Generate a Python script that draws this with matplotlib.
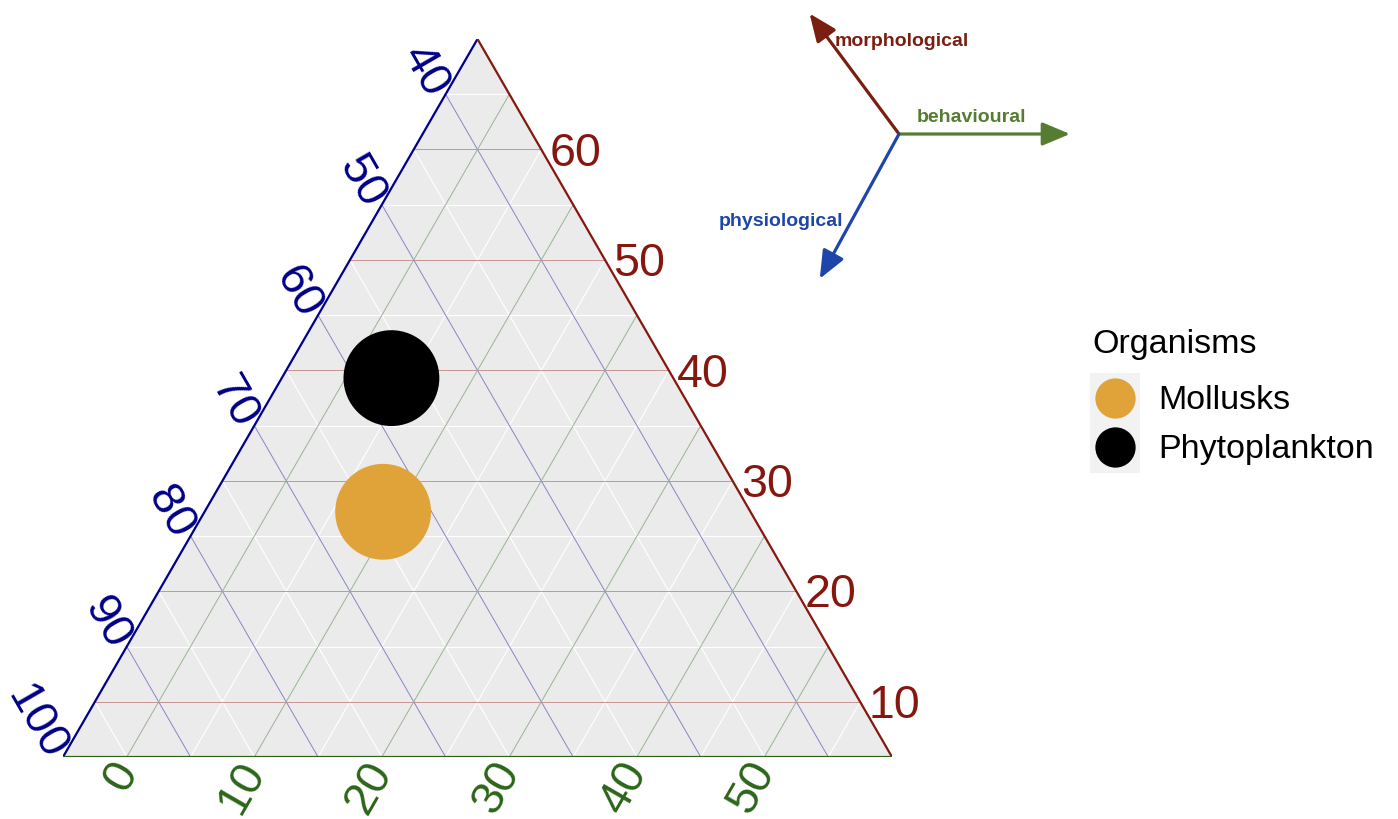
import numpy as np
import matplotlib.pyplot as plt
from matplotlib.patches import Polygon, Rectangle

plt.rcParams['font.family'] = ['Liberation Sans', 'DejaVu Sans']

# data (percent)
organisms = ['Mollusks', 'Phytoplankton']
morphological = [27.2, 39.3]
behavioural = [9.0, 3.6]
physiological = [63.8, 57.1]
point_colors = ['#DFA33A', '#000000']

# ternary limits and ticks
morph_lim = (5, 70)
behav_lim = (-5, 60)
physio_lim = (35, 100)
morph_ticks = [10, 20, 30, 40, 50, 60]
physio_ticks = [40, 50, 60, 70, 80, 90, 100]
behav_ticks = [0, 10, 20, 30, 40, 50]

SPAN = morph_lim[1] - morph_lim[0]
H = np.sqrt(3) / 2

RED = '#86170F'
BLUE = '#000088'
GREEN = '#2C6519'


def to_xy(morph, behav):
    m = (np.asarray(morph, float) - morph_lim[0]) / SPAN
    b = (np.asarray(behav, float) - behav_lim[0]) / SPAN
    return b + 0.5 * m, m * H


def morph_line(v):
    return to_xy([v, v], [behav_lim[0], 100 - v - physio_lim[0]])


def behav_line(v):
    return to_xy([morph_lim[0], 100 - v - physio_lim[0]], [v, v])


def physio_line(v):
    return to_xy([morph_lim[0], 100 - v - behav_lim[0]], [100 - v - morph_lim[0], behav_lim[0]])


fig = plt.figure(figsize=(13.98, 8.19), dpi=100)
W, Hpx = 1398, 819
ax = fig.add_axes([63 / W, (Hpx - 757) / Hpx, 829 / W, 718 / Hpx])
ax.set_xlim(0, 1)
ax.set_ylim(0, H)
ax.axis('off')

# background triangle
ax.add_patch(Polygon([(0, 0), (1, 0), (0.5, H)], closed=True, facecolor='#EBEBEB',
                     edgecolor='none', zorder=0))

# minor grid (white)
for v in range(15, 70, 10):
    ax.plot(*morph_line(v), color='white', lw=0.8, zorder=1)
for v in range(45, 100, 10):
    ax.plot(*physio_line(v), color='white', lw=0.8, zorder=1)
for v in range(5, 60, 10):
    ax.plot(*behav_line(v), color='white', lw=0.8, zorder=1)

# major grid (coloured)
for v in morph_ticks:
    ax.plot(*morph_line(v), color='#C99393', lw=0.7, zorder=2)
for v in physio_ticks[:-1]:
    ax.plot(*physio_line(v), color='#8686C4', lw=0.7, zorder=2)
for v in behav_ticks:
    ax.plot(*behav_line(v), color='#9AB394', lw=0.7, zorder=2)

# edges
ax.plot([0, 0.5], [0, H], color=BLUE, lw=1.6, zorder=3, solid_capstyle='round')
ax.plot([1, 0.5], [0, H], color=RED, lw=1.6, zorder=3, solid_capstyle='round')
ax.plot([0, 1], [0, 0], color=GREEN, lw=1.6, zorder=3, solid_capstyle='round')

# tick labels
for v in morph_ticks:
    x, y = to_xy(v, 100 - v - physio_lim[0])
    ax.annotate(str(v), (x, y), xytext=(6, -3), textcoords='offset points',
                ha='left', va='center', fontsize=33.5, color=RED, annotation_clip=False)
for v in physio_ticks:
    x, y = to_xy(100 - v - behav_lim[0], behav_lim[0])
    ax.annotate(str(v), (x, y), xytext=(-5, 0.5), textcoords='offset points',
                ha='right', va='center', rotation=-60, rotation_mode='anchor',
                fontsize=33.5, color=BLUE, annotation_clip=False)
for v in behav_ticks:
    x, y = to_xy(morph_lim[0], v)
    ax.annotate(str(v), (x, y), xytext=(0.5, -6), textcoords='offset points',
                ha='right', va='center', rotation=60, rotation_mode='anchor',
                fontsize=33.5, color=GREEN, annotation_clip=False)

# points
px, py = to_xy(morphological, behavioural)
ax.scatter(px, py, s=69 ** 2, c=point_colors, linewidths=0, zorder=5)

# overlay in pixel coordinates for the direction key and legend
key = fig.add_axes([0, 0, 1, 1])
key.set_xlim(0, W)
key.set_ylim(Hpx, 0)
key.axis('off')
key.patch.set_alpha(0)

cx, cy = 899, 134
arrows = [
    ('morphological', 126.6, 150, '#7A1E10', (835, 41), 'left'),
    ('behavioural', 0.0, 171, '#557D32', (917, 117), 'left'),
    ('physiological', 241.3, 165, '#1E46AA', (843, 221), 'right'),
]
for name, ang, length, col, (tx, ty), ha in arrows:
    a = np.deg2rad(ang)
    key.annotate('', xy=(cx + length * np.cos(a), cy - length * np.sin(a)), xytext=(cx, cy),
                 arrowprops=dict(arrowstyle='-|>,head_length=1.0,head_width=0.42',
                                 color=col, lw=2.3, mutation_scale=17,
                                 shrinkA=0, shrinkB=0))
    key.text(tx, ty, name, color=col, fontsize=14, fontweight='bold', ha=ha, va='center')

# legend
key.text(1092, 344, 'Organisms', fontsize=24.5, ha='left', va='center')
key.add_patch(Rectangle((1090, 373), 50, 100, facecolor='#F2F2F2', edgecolor='none'))
for i, (name, col) in enumerate(zip(organisms, point_colors)):
    yy = 398 + 49 * i
    key.scatter([1115], [yy], s=29 ** 2, c=col, linewidths=0, zorder=3)
    key.text(1158, yy + 2.5, name, fontsize=24.5, ha='left', va='center')

fig.savefig('out.png', dpi=100)
